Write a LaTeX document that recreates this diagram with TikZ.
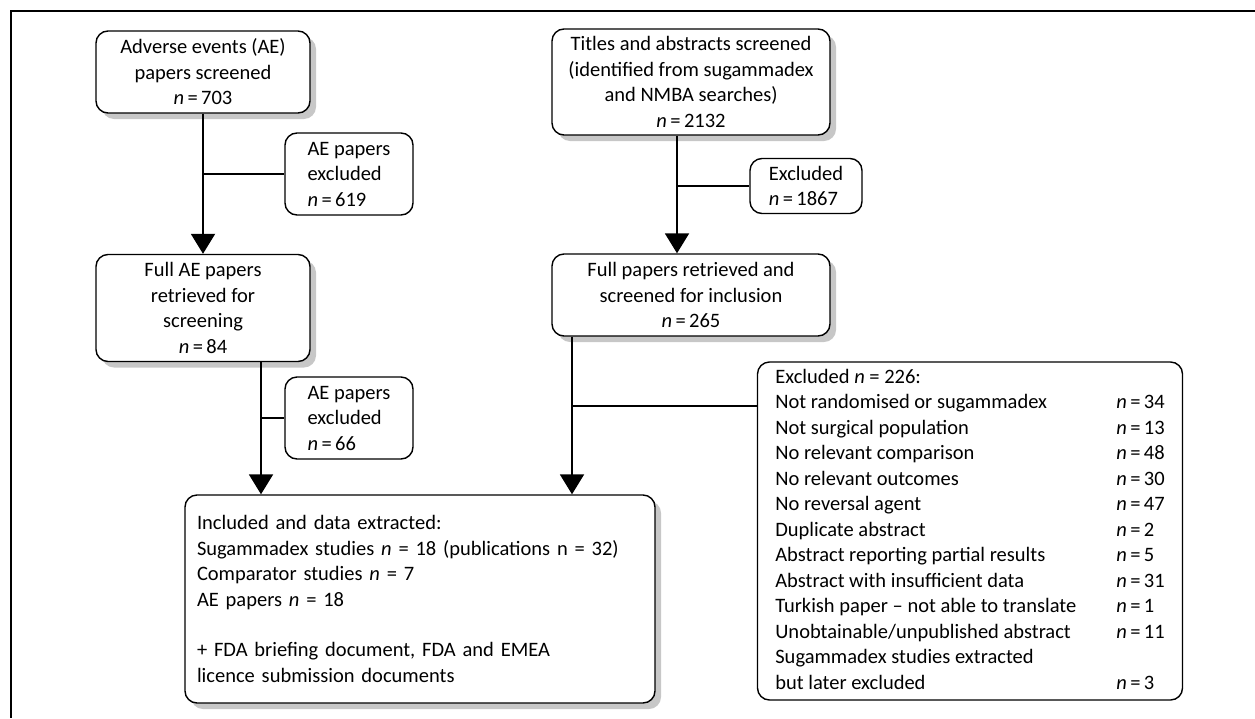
\documentclass[tikz,border=0pt]{standalone}
\usepackage{fontspec}
\setmainfont{Carlito}
\usetikzlibrary{arrows.meta,shadows,positioning}
\tikzset{
  mainbox/.style={draw, line width=1.4pt, rounded corners=12pt, fill=white,
    align=center, inner sep=0pt,
    drop shadow={shadow xshift=6pt, shadow yshift=-6pt, fill=black!22, opacity=1}},
  sidebox/.style={draw, line width=1.4pt, rounded corners=12pt, fill=white,
    align=left, inner sep=0pt},
  flow/.style={line width=2pt, -{Triangle[length=20pt,width=24pt]}},
  branch/.style={line width=1.6pt}
}

\begin{document}
\begin{tikzpicture}[x=1pt,y=-1pt,font=\fontsize{20.5}{25.5}\selectfont]
\useasboundingbox (0,0) rectangle (1255,718);
\draw[line width=2pt] (1255,11) -- (11,11) -- (11,718);

% screening boxes
\node[mainbox, minimum width=214pt, minimum height=82pt] (scrAE) at (203,72)
  {Adverse events (AE)\\papers screened\\\textit{n}\,=\,703};
\node[mainbox, minimum width=278pt, minimum height=106pt] (scrTA) at (691,82)
  {Titles and abstracts screened\\(identified from sugammadex\\and NMBA searches)\\\textit{n}\,=\,2132};
\node[sidebox, minimum width=128pt, minimum height=82pt] (exAE1) at (349,174)
  {AE papers\\excluded\\\textit{n}\,=\,619};
\node[sidebox, minimum width=112pt, minimum height=55pt] (exTA) at (806,186)
  {Excluded\\\textit{n}\,=\,1867};
\node[mainbox, minimum width=214pt, minimum height=107pt] (fullAE) at (203,308)
  {Full AE papers\\retrieved for\\screening\\\textit{n}\,=\,84};
\node[mainbox, minimum width=278pt, minimum height=82pt] (fullP) at (691,295)
  {Full papers retrieved and\\screened for inclusion\\\textit{n}\,=\,265};
\node[sidebox, minimum width=128pt, minimum height=82pt] (exAE2) at (349,418)
  {AE papers\\excluded\\\textit{n}\,=\,66};
\node[mainbox, align=left, minimum width=470pt, minimum height=208pt, text width=446pt] (incl) at (420,599)
  {Included and data extracted:\\
   Sugammadex studies \textit{n} = 18 (publications n = 32)\\
   Comparator studies \textit{n} = 7\\
   AE papers \textit{n} = 18\\[25pt]
   + FDA briefing document, FDA and EMEA\\
   licence submission documents};
\node[sidebox, minimum width=425pt, minimum height=338pt] (exP) at (970,531)
  {\begin{tabular}{@{}p{341pt}@{}l@{}}
   Excluded \textit{n} = 226: & \\
   Not randomised or sugammadex & \textit{n}\,=\,34\\
   Not surgical population & \textit{n}\,=\,13\\
   No relevant comparison & \textit{n}\,=\,48\\
   No relevant outcomes & \textit{n}\,=\,30\\
   No reversal agent & \textit{n}\,=\,47\\
   Duplicate abstract & \textit{n}\,=\,2\\
   Abstract reporting partial results & \textit{n}\,=\,5\\
   Abstract with insufficient data & \textit{n}\,=\,31\\
   Turkish paper -- not able to translate & \textit{n}\,=\,1\\
   Unobtainable/unpublished abstract & \textit{n}\,=\,11\\
   Sugammadex studies extracted & \\
   but later excluded & \textit{n}\,=\,3
   \end{tabular}};

% connectors
\coordinate (jTA) at (677,0);
\coordinate (jL) at (261,0);
\coordinate (jR) at (572,0);
\coordinate (jP) at (0,406);
\draw[flow] (scrAE.south) -- (fullAE.north);
\draw[branch] (scrAE.south |- exAE1.west) -- (exAE1.west);
\draw[flow] (scrTA.south -| jTA) -- (fullP.north -| jTA);
\draw[branch] (exTA.west -| jTA) -- (exTA.west);
\draw[flow] (fullAE.south -| jL) -- (incl.north -| jL);
\draw[branch] (exAE2.west -| jL) -- (exAE2.west);
\draw[flow] (fullP.south -| jR) -- (incl.north -| jR);
\draw[branch] (jP -| jR) -- (jP -| exP.west);
\end{tikzpicture}
\end{document}
